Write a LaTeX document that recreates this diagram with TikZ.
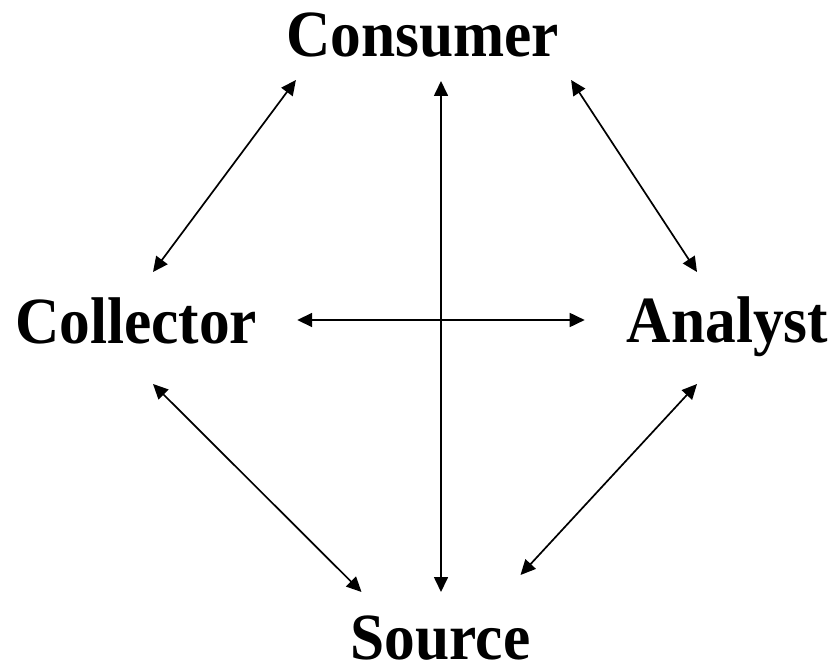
\documentclass[tikz,border=0pt]{standalone}
\usepackage{fontspec}
\newfontfamily\rolefont{Liberation Serif}[FakeStretch=0.93]
\usepackage{tikz}
\usetikzlibrary{arrows.meta,calc}

\begin{document}
\begin{tikzpicture}[x=1pt,y=1pt,
  role/.style={inner sep=0pt,anchor=base,font=\rolefont\bfseries\fontsize{66}{70}\selectfont},
  flow/.style={{Triangle[length=15pt,width=14pt]}-{Triangle[length=15pt,width=14pt]},line width=1.7pt}]
\useasboundingbox (0,0) rectangle (837,667);

\node[role,name=consumer] at (422.5,610) {Consumer};
\node[role,name=collector] at (136,323) {Collector};
\node[role,name=analyst] at (727.5,324) {Analyst};
\node[role,name=source] at (440.5,8) {Source};

\draw[flow] ([xshift=10,yshift=-23]consumer.base west) -- ([xshift=17,yshift=72]collector.base);
\draw[flow] ([xshift=12,yshift=-23]consumer.base east) -- ([xshift=-30.5,yshift=71]analyst.base);
\draw[flow] ([xshift=0.5,yshift=578]source.base) -- ([xshift=0.5,yshift=67]source.base);
\draw[flow] ([xshift=40,yshift=24]collector.base east) -- ([xshift=-42,yshift=23]analyst.base west);
\draw[flow] ([xshift=17,yshift=-40]collector.base) -- ([xshift=11,yshift=67]source.base west);
\draw[flow] ([xshift=-30.5,yshift=-41]analyst.base) -- ([xshift=-10,yshift=84]source.base east);
\end{tikzpicture}
\end{document}
